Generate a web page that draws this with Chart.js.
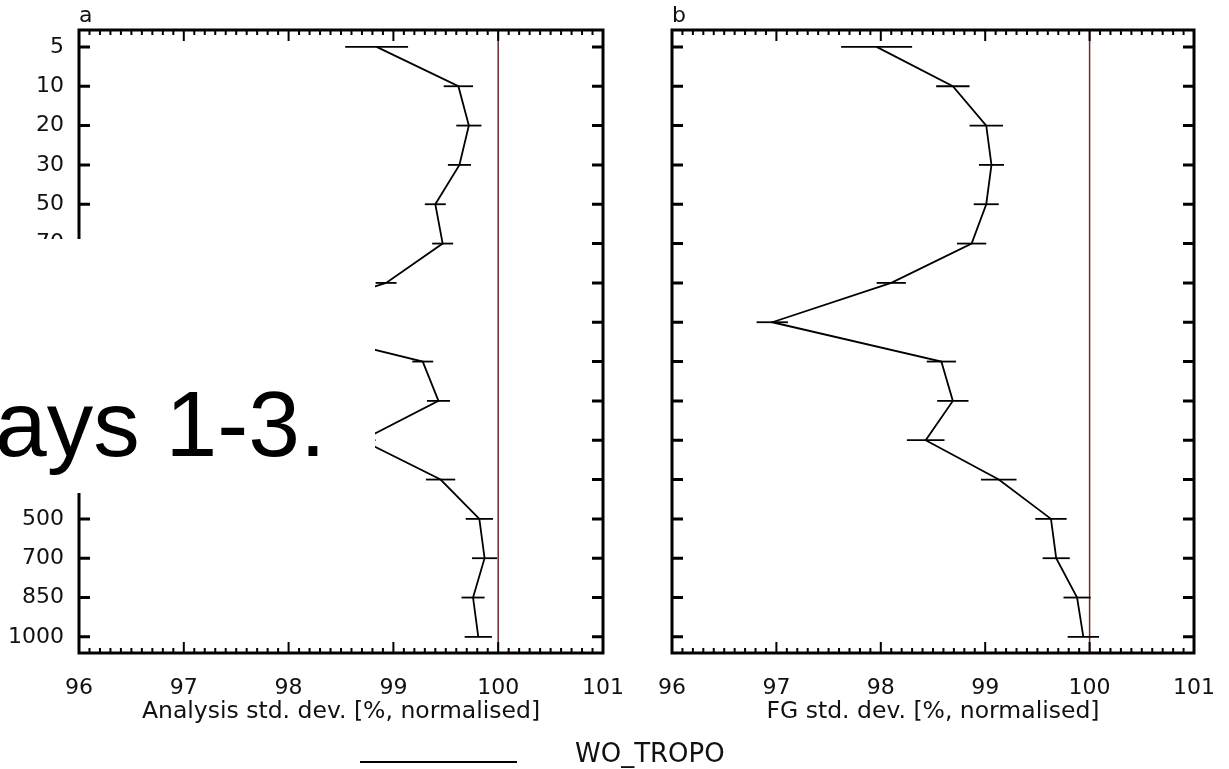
<!DOCTYPE html>
<html>
<head>
<meta charset="utf-8">
<script src="https://cdn.jsdelivr.net/npm/chart.js@4.4.1/dist/chart.umd.min.js"></script>
<style>
  body { margin: 0; background: #fff; width: 1229px; height: 769px; overflow: hidden; position: relative;
         font-family: "DejaVu Sans", sans-serif; color: #111; }
  #c1 { position: absolute; left: 0; top: 0; }
  #c2 { position: absolute; left: 620px; top: 0; }
  #cover { position: absolute; left: 0; top: 239px; width: 375px; height: 254px; background: #fff; overflow: hidden; }
  #cover span { position: absolute; left: -5px; top: 139px; font-family: "Liberation Sans", Arial, sans-serif;
                font-size: 93px; line-height: 1; white-space: nowrap; color: #000; }
  #legLine { position: absolute; left: 360px; top: 761px; width: 157px; height: 2px; background: #000; }
  #legText { position: absolute; left: 575px; top: 740px; font-size: 26px; line-height: 1; white-space: nowrap; }
</style>
</head>
<body>
<canvas id="c1" width="640" height="769"></canvas>
<canvas id="c2" width="609" height="769"></canvas>
<div id="cover"><span>ays 1-3.</span></div>
<div id="legLine"></div>
<div id="legText">WO_TROPO</div>
<script>
// pressure levels (hPa), top to bottom
const levels = ["5", "10", "20", "30", "50", "70", "100", "150", "200", "250", "300", "400", "500", "700", "850", "1000"];
// panel a: analysis std. dev. and its error half-width
const analysisMean = [98.84, 99.62, 99.72, 99.63, 99.40, 99.47, 98.93, 97.75, 99.28, 99.43, 98.70, 99.45, 99.82, 99.87, 99.76, 99.81];
const analysisErr  = [0.30, 0.14, 0.12, 0.11, 0.10, 0.10, 0.10, 0.12, 0.10, 0.11, 0.13, 0.14, 0.13, 0.12, 0.11, 0.13];
// panel b: first-guess std. dev. and its error half-width
const fgMean = [97.96, 98.69, 99.01, 99.06, 99.01, 98.87, 98.10, 96.96, 98.58, 98.69, 98.43, 99.13, 99.63, 99.68, 99.88, 99.94];
const fgErr  = [0.34, 0.16, 0.16, 0.12, 0.12, 0.14, 0.14, 0.15, 0.14, 0.15, 0.18, 0.17, 0.15, 0.13, 0.13, 0.15];
const xTicks = [96, 97, 98, 99, 100, 101];
const refValue = 100;

const Y_MIN = -0.43, Y_MAX = 15.41;
const FONT = '"DejaVu Sans", sans-serif';

// thick box, inward ticks, panel letter
const framePlugin = {
  id: 'frame',
  afterDraw(chart, args, opts) {
    const { ctx, chartArea: a, scales: { x, y } } = chart;
    ctx.save();
    ctx.strokeStyle = '#000';
    ctx.lineWidth = 2;
    const steps = Math.round((x.max - x.min) * 10);
    for (let k = 0; k <= steps; k++) {
      const px = x.getPixelForValue(x.min + k / 10);
      const len = k % 10 === 0 ? 11 : 5;
      ctx.beginPath();
      ctx.moveTo(px, a.top); ctx.lineTo(px, a.top + len);
      ctx.moveTo(px, a.bottom); ctx.lineTo(px, a.bottom - len);
      ctx.stroke();
    }
    ctx.lineWidth = 3;
    levels.forEach((_, i) => {
      const py = y.getPixelForValue(i);
      ctx.beginPath();
      ctx.moveTo(a.left, py); ctx.lineTo(a.left + 11, py);
      ctx.moveTo(a.right, py); ctx.lineTo(a.right - 11, py);
      ctx.stroke();
    });
    ctx.strokeRect(a.left, a.top, a.width, a.height);
    ctx.fillStyle = '#111';
    ctx.font = '22px ' + FONT;
    ctx.textBaseline = 'alphabetic';
    ctx.fillText(opts.letter, a.left, a.top - 8);
    ctx.restore();
  }
};

// horizontal error bars
const errPlugin = {
  id: 'errbars',
  afterDatasetsDraw(chart, args, opts) {
    const { ctx, scales: { x, y } } = chart;
    ctx.save();
    ctx.strokeStyle = '#000';
    ctx.lineWidth = 1.8;
    opts.mean.forEach((m, i) => {
      const py = y.getPixelForValue(i);
      ctx.beginPath();
      ctx.moveTo(x.getPixelForValue(m - opts.err[i]), py);
      ctx.lineTo(x.getPixelForValue(m + opts.err[i]), py);
      ctx.stroke();
    });
    ctx.restore();
  }
};

function makeChart(id, mean, err, letter, title, showY, padding) {
  return new Chart(document.getElementById(id), {
    type: 'line',
    data: {
      datasets: [
        {
          data: mean.map((v, i) => ({ x: v, y: i })),
          borderColor: '#000',
          borderWidth: 1.8,
          pointRadius: 0,
          tension: 0
        },
        {
          data: [{ x: refValue, y: Y_MIN }, { x: refValue, y: Y_MAX }],
          borderColor: '#6e2b2b',
          borderWidth: 1.5,
          pointRadius: 0
        }
      ]
    },
    options: {
      responsive: false,
      animation: false,
      layout: { padding: padding },
      plugins: {
        legend: { display: false },
        tooltip: { enabled: false },
        frame: { letter: letter },
        errbars: { mean: mean, err: err }
      },
      scales: {
        x: {
          type: 'linear',
          min: 96, max: 101,
          grid: { display: false },
          border: { display: false },
          afterBuildTicks: (s) => { s.ticks = xTicks.map(v => ({ value: v })); },
          afterFit: (s) => { s.height = 90; },
          ticks: { padding: 14, color: '#111', font: { family: FONT, size: 22 } },
          title: { display: true, text: title, color: '#111', padding: { top: 0, bottom: 17 },
                   font: { family: FONT, size: 23.5 } }
        },
        y: {
          type: 'linear',
          reverse: true,
          min: Y_MIN, max: Y_MAX,
          display: showY,
          grid: { display: false },
          border: { display: false },
          afterBuildTicks: (s) => { s.ticks = levels.map((_, i) => ({ value: i })); },
          afterFit: (s) => { s.width = showY ? 79 : 0; },
          ticks: { padding: 7, color: '#111', font: { family: FONT, size: 22 },
                   callback: (v) => levels[v] }
        }
      }
    },
    plugins: [framePlugin, errPlugin]
  });
}

makeChart('c1', analysisMean, analysisErr, 'a', 'Analysis std. dev. [%, normalised]', true,
  { top: 30, right: 37, bottom: 26, left: 0 });
makeChart('c2', fgMean, fgErr, 'b', 'FG std. dev. [%, normalised]', false,
  { top: 30, right: 34, bottom: 26, left: 52 });
</script>
</body>
</html>
